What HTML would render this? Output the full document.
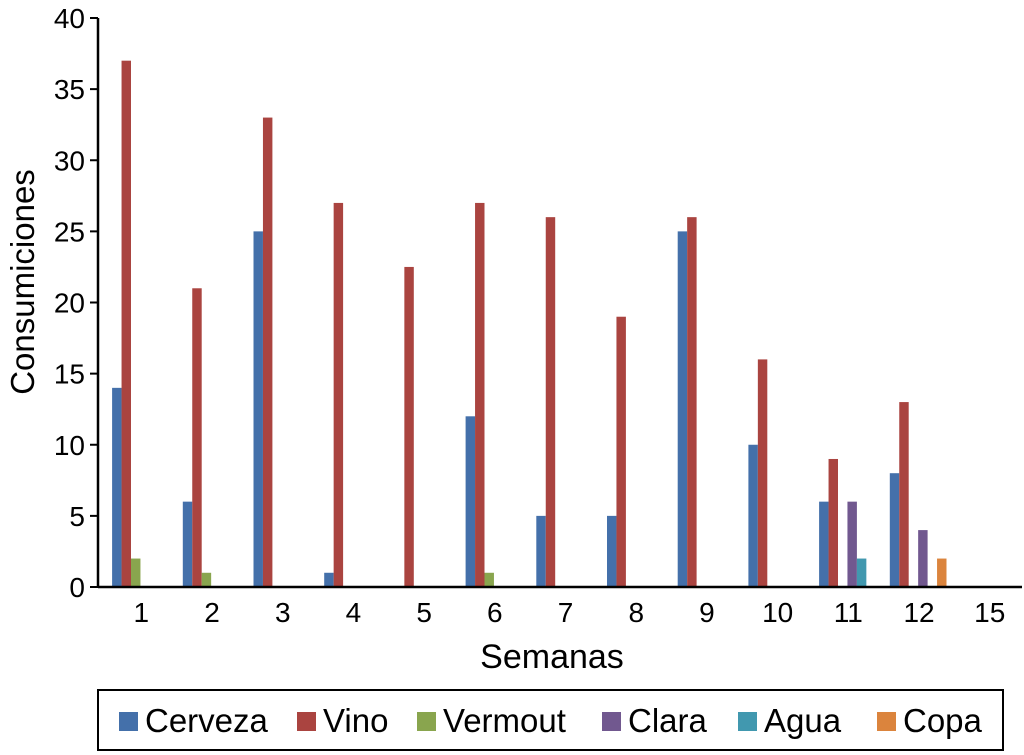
<!DOCTYPE html>
<html><head><meta charset="utf-8"><style>
body{margin:0;background:#fff;}
svg{display:block;font-family:"Liberation Sans",Arial,sans-serif;}
</style></head><body>
<svg id="chart" width="1024" height="755">
<g id="plot"></g>
</svg>
<script>
const categories=["1","2","3","4","5","6","7","8","9","10","11","12","15"];
const seriesNames=["Cerveza","Vino","Vermout","Clara","Agua","Copa"];
const cerveza=[14,6,25,1,0,12,5,5,25,10,6,8,0];
const vino=[37,21,33,27,22.5,27,26,19,26,16,9,13,0];
const vermout=[2,1,0,0,0,1,0,0,0,0,0,0,0];
const clara=[0,0,0,0,0,0,0,0,0,0,6,4,0];
const agua=[0,0,0,0,0,0,0,0,0,0,2,0,0];
const copa=[0,0,0,0,0,0,0,0,0,0,0,2,0];
const yTicks=[0,5,10,15,20,25,30,35,40];
const series=[cerveza,vino,vermout,clara,agua,copa];
const colors=["#4470aa","#aa4440","#89a54e","#71588f","#4198af","#db843d"];
const NS="http://www.w3.org/2000/svg";
const svg=document.getElementById('chart');
const plot=document.getElementById('plot');
const x0=98,y0=587,yTop=18,band=70.7,pad=14.1,bw=9.45;
function y(v){return y0-(v/40)*(y0-yTop);}
function xBand(i){return x0+i*band;}
function mk(t,a,p){const e=document.createElementNS(NS,t);for(const k in a)e.setAttribute(k,a[k]);(p||svg).appendChild(e);return e;}
series.forEach((s,si)=>{s.forEach((v,i)=>{if(v<=0)return;
const r=mk('rect',{x:xBand(i)+pad+si*bw,y:y(v),width:bw,height:y0-y(v),fill:colors[si]},plot);

});});
const ya=mk('line',{x1:x0,y1:yTop,x2:x0,y2:y0,stroke:'#000','stroke-width':2.5});


const xa=mk('line',{x1:x0,y1:y0,x2:1022,y2:y0,stroke:'#000','stroke-width':2.5});


yTicks.forEach(t=>{
mk('line',{x1:x0-8,y1:y(t),x2:x0,y2:y(t),stroke:'#000','stroke-width':2});
const tx=mk('text',{x:85,y:y(t)+10,'text-anchor':'end','font-size':28});
tx.textContent=t;

});
categories.forEach((c,i)=>{
const tx=mk('text',{x:xBand(i)+band/2+8,y:622,'text-anchor':'middle','font-size':28});
tx.textContent=c;

});
const yt=mk('text',{x:0,y:0,transform:'translate(34,282) rotate(-90)','text-anchor':'middle','font-size':33});
yt.textContent='Consumiciones';


const xt=mk('text',{x:552,y:668,'text-anchor':'middle','font-size':34});
xt.textContent='Semanas';


const lg=mk('g',{});


mk('rect',{x:98,y:690,width:905,height:60,fill:'none',stroke:'#000','stroke-width':2},lg);
const lx=[145,323,443,628,764,903];
seriesNames.forEach((n,i)=>{
const g=mk('g',{},lg);


mk('rect',{x:lx[i]-26,y:712,width:19,height:19,fill:colors[i]},g);
const t=mk('text',{x:lx[i],y:732,'font-size':33},g);
t.textContent=n;});
</script>
</body></html>
